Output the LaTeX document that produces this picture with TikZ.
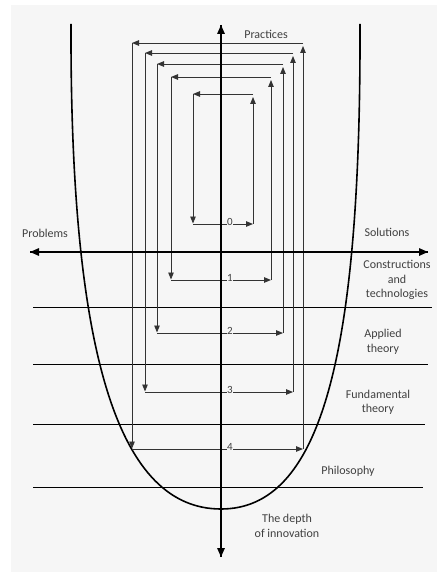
\documentclass[tikz,border=0pt]{standalone}
\usepackage{fontspec}
\setmainfont{Carlito}
\usetikzlibrary{arrows.meta}
\definecolor{bg}{HTML}{F6F6F6}
\definecolor{txt}{HTML}{404040}
\tikzset{
  axis/.style={line width=1.5pt,-{Triangle[length=9pt,width=7.5pt]}},
  loopline/.style={line width=0.9pt,draw=black!80,-{Triangle[length=7pt,width=5.5pt]}},
  layer/.style={line width=0.8pt},
  lbl/.style={text=txt,font=\fontsize{12}{14.5}\selectfont,align=center,inner sep=1pt},
  num/.style={text=txt,font=\fontsize{11}{12}\selectfont,fill=bg,inner sep=0.4pt},
}
\begin{document}
\begin{tikzpicture}[x=1pt,y=-1pt]
\useasboundingbox (0,0) rectangle (437,572);
\fill[bg] (11,5) rectangle (437,572);
% layer lines
\foreach \n/\y/\xr in {a/307/432,b/364/428,c/424/425,d/487/423}{
  \coordinate (\n L) at (33,\y);
  \coordinate (\n R) at (\xr,\y);
  \draw[layer] (\n L) -- (\n R);
}
% U curve
\coordinate (ctl) at (71,24);
\coordinate (cbot) at (221,509);
\coordinate (ctr) at (360,24);
\draw[line width=1.6pt] (ctl) .. controls (70,360) and (120,509) .. (cbot)
  .. controls (320,509) and (361,360) .. (ctr);
% loops
\foreach \i/\l/\r/\t/\b in {0/193/253/94/224,1/171/271/77/280,2/157/283/64/333,3/145/293/53/392,4/132/303/43/449}{
  \coordinate (LT\i) at (\l,\t);
  \coordinate (RT\i) at (\r,\t);
  \coordinate (LB\i) at (\l,\b);
  \coordinate (RB\i) at (\r,\b);
  \draw[loopline] (LB\i) -- (RB\i);
  \draw[loopline,shorten >=3pt] (RB\i) -- (RT\i);
  \draw[loopline] (RT\i) -- (LT\i);
  \draw[loopline,shorten >=0.5pt] (LT\i) -- (LB\i);
  \node[num] (n\i) at (230,{\b-2}) {\i};
}
% axes
\coordinate (vtop) at (221,25);
\coordinate (vbot) at (221,557);
\coordinate (hl) at (30,252);
\coordinate (hr) at (428,252);
\draw[axis] (vbot) -- (vtop);
\draw[axis] (vtop) -- (vbot);
\draw[axis] (hr) -- (hl);
\draw[axis] (hl) -- (hr);
% labels
\node[lbl] (prac) at (266,34) {Practices};
\node[lbl] (prob) at (45,233) {Problems};
\node[lbl] (sol) at (387,232) {Solutions};
\node[lbl] (cons) at (397,280) {Constructions\\and\\technologies};
\node[lbl] (app) at (383,342) {Applied\\theory};
\node[lbl] (fund) at (378,402.5) {Fundamental\\theory};
\node[lbl] (phil) at (348,471) {Philosophy};
\node[lbl] (depth) at (287,526) {The depth\\of innovation};
\end{tikzpicture}
\end{document}
